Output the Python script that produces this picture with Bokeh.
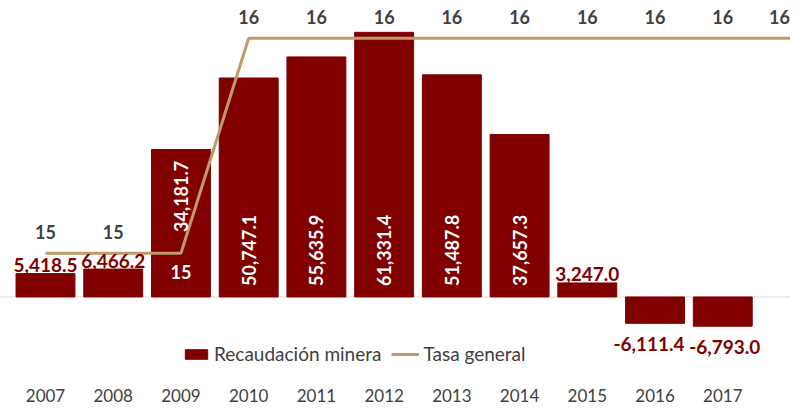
import math
from bokeh.plotting import figure
from bokeh.models import Range1d, Span, FixedTicker, Legend
from bokeh.core.properties import value
from bokeh.embed import file_html
from bokeh.resources import INLINE

# ---- data ----
years = [2007, 2008, 2009, 2010, 2011, 2012, 2013, 2014, 2015, 2016, 2017]
recaudacion = [5418.5, 6466.2, 34181.7, 50747.1, 55635.9, 61331.4, 51487.8, 37657.3, 3247.0, -6111.4, -6793.0]
tasa_years = [2007, 2008, 2009, 2010, 2011, 2012, 2013, 2014, 2015, 2016, 2017, 2018]
tasa = [15, 15, 15, 16, 16, 16, 16, 16, 16, 16, 16, 16]
year_labels = [str(y) for y in years]

BAR = "#800000"
LINE = "#C19A6B"
TXT = "#404040"
FONT = "Lato"

# ---- layout ----
W, H = 790, 404
FRAME_H = 384
zero_px = 298.0          # zero line, px from frame top
top_px = 32.0            # top of the tallest bar
k = (zero_px - top_px) / max(recaudacion)
y0, y1 = -(FRAME_H - zero_px) / k, zero_px / k
t_hi_px, t_lo_px = 38.0, 254.0
tk = (t_lo_px - t_hi_px) / (max(tasa) - min(tasa))
t1 = max(tasa) + t_hi_px / tk
t0 = min(tasa) - (FRAME_H - t_lo_px) / tk
x_end = tasa_years[-1]
step = (W - 45.0) / (x_end - years[0])
x_start = years[0] - 45.0 / step

p = figure(width=W, height=H, x_range=Range1d(x_start, x_end), y_range=Range1d(y0, y1),
           output_backend="svg", toolbar_location=None, min_border=0,
           min_border_left=0, min_border_right=0, min_border_top=0, min_border_bottom=0)
p.extra_y_ranges = {"tasa": Range1d(t0, t1)}
p.outline_line_color = None
p.xgrid.visible = False
p.ygrid.visible = False
p.yaxis.visible = False
p.background_fill_color = "white"

p.add_layout(Span(location=0, dimension="width", line_color="#d9d9d9", line_width=1, level="underlay"))

bars = p.vbar(x=years, top=recaudacion, width=0.87, fill_color=BAR, line_color=BAR)
line = p.line(tasa_years, tasa, y_range_name="tasa", line_color=LINE, line_width=3)

# x axis
xa = p.xaxis[0]
xa.ticker = FixedTicker(ticks=years)
xa.major_label_overrides = {y: l for y, l in zip(years, year_labels)}
xa.axis_line_color = None
xa.major_tick_line_color = None
xa.minor_tick_line_color = None
xa.major_label_standoff = 0
xa.major_label_text_font = FONT
xa.major_label_text_font_size = "17px"
xa.major_label_text_color = TXT

# bar labels
inside = [i for i, v in enumerate(recaudacion) if v > 30000]
pos_out = [i for i, v in enumerate(recaudacion) if 0 <= v <= 30000]
neg_out = [i for i, v in enumerate(recaudacion) if v < 0]
fmt = lambda v: f"{v:,.1f}"
nudge = {2009: -65}
lab_dx = {2016: -6, 2017: 2}
lab_dy = {2008: 1}

p.text(x=[years[i] for i in inside], y=[0] * len(inside),
       text=[fmt(recaudacion[i]) for i in inside],
       angle=math.pi / 2, text_align="left", text_baseline="middle",
       y_offset=[nudge.get(years[i], -11) for i in inside],
       text_font=value(FONT), text_font_style="bold", text_font_size="18px", text_color="white")
p.text(x=[years[i] for i in pos_out], y=[recaudacion[i] for i in pos_out],
       text=[fmt(recaudacion[i]) for i in pos_out],
       text_align="center", text_baseline="bottom",
       y_offset=[-2 + lab_dy.get(years[i], 0) for i in pos_out],
       text_font=value(FONT), text_font_style="bold", text_font_size="19px", text_color=BAR)
p.text(x=[years[i] for i in neg_out], y=[recaudacion[i] for i in neg_out],
       text=[fmt(recaudacion[i]) for i in neg_out],
       text_align="center", text_baseline="top", y_offset=14,
       x_offset=[lab_dx.get(years[i], 0) for i in neg_out],
       text_font=value(FONT), text_font_style="bold", text_font_size="19px", text_color=BAR)

# tasa labels
below = [2009]
xnudge = {2018: -11}
ab = [i for i, y in enumerate(tasa_years) if y not in below]
be = [i for i, y in enumerate(tasa_years) if y in below]
p.text(x=[tasa_years[i] for i in ab], y=[tasa[i] for i in ab], text=[str(tasa[i]) for i in ab],
       x_offset=[xnudge.get(tasa_years[i], 0) for i in ab],
       y_range_name="tasa", text_align="center", text_baseline="bottom", y_offset=-14,
       text_font=value(FONT), text_font_style="bold", text_font_size="18px", text_color=TXT)
p.text(x=[tasa_years[i] for i in be], y=[tasa[i] for i in be], text=[str(tasa[i]) for i in be],
       y_range_name="tasa", text_align="center", text_baseline="top", y_offset=12,
       text_font=value(FONT), text_font_style="bold", text_font_size="18px", text_color="white")

legend = Legend(items=[("Recaudación minera", [bars]), ("Tasa general", [line])],
                orientation="horizontal", location=(182, 17),
                glyph_width=28, glyph_height=12, label_standoff=4, spacing=10,
                padding=0, margin=0, border_line_color=None, background_fill_alpha=0,
                label_text_font=FONT, label_text_font_size="19px", label_text_color=TXT)
p.add_layout(legend)

open("out.html", "w").write(file_html(p, INLINE))
